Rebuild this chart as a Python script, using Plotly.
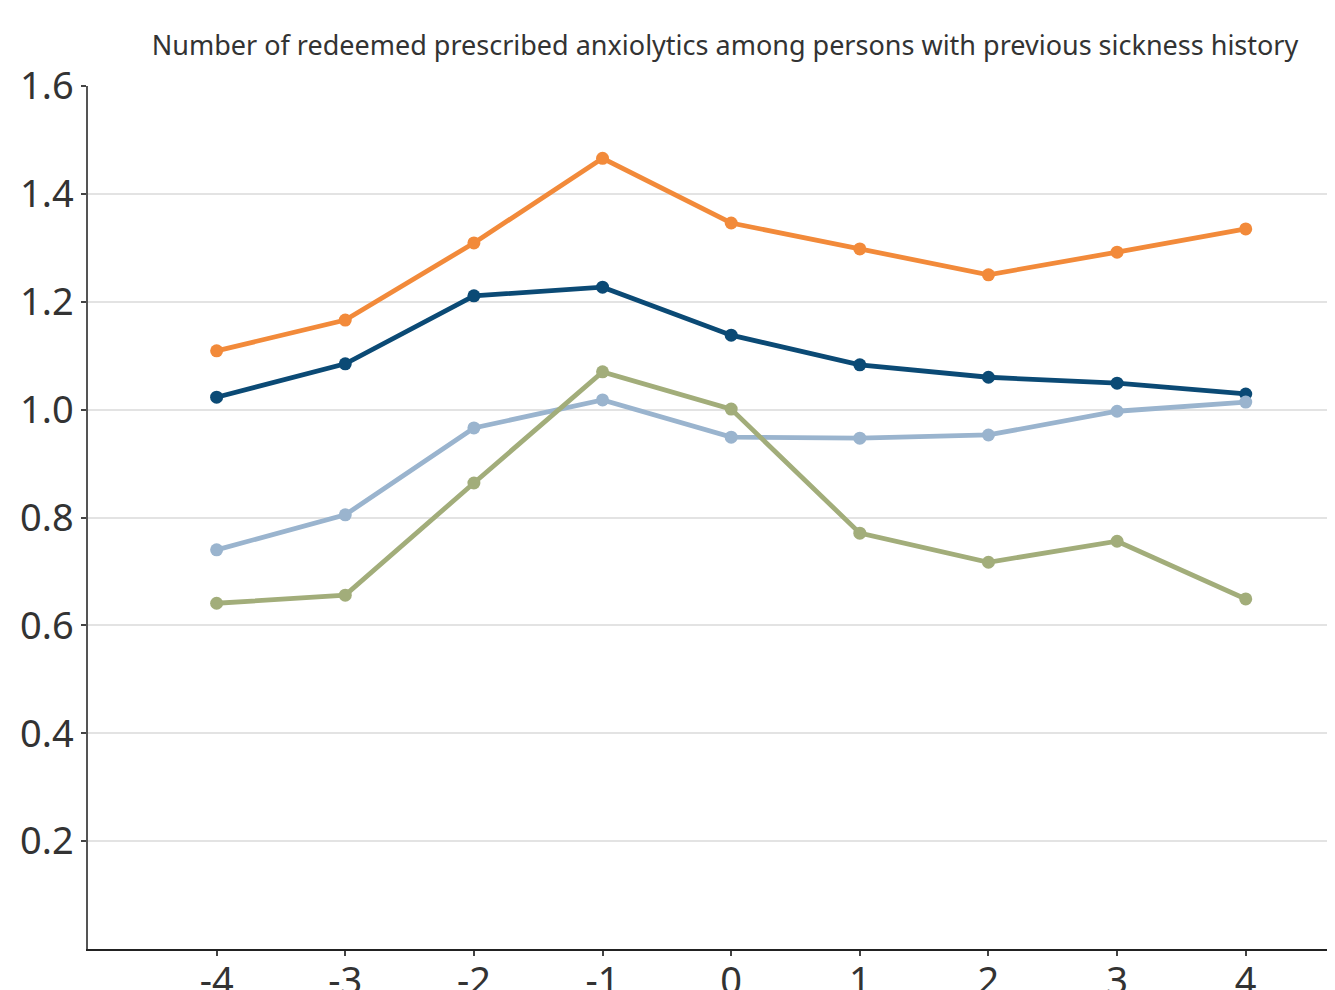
import plotly.graph_objects as go

years = [-4, -3, -2, -1, 0, 1, 2, 3, 4]

orange_vals = [1.109, 1.166, 1.309, 1.466, 1.346, 1.298, 1.250, 1.292, 1.335]
darkblue_vals = [1.023, 1.085, 1.211, 1.227, 1.138, 1.083, 1.060, 1.049, 1.029]
lightblue_vals = [0.740, 0.805, 0.966, 1.018, 0.949, 0.947, 0.953, 0.997, 1.014]
green_vals = [0.641, 0.656, 0.864, 1.070, 1.001, 0.771, 0.717, 0.756, 0.649]

y_ticks = [0.2, 0.4, 0.6, 0.8, 1.0, 1.2, 1.4, 1.6]
y_labels = ["0.2", "0.4", "0.6", "0.8", "1.0", "1.2", "1.4", "1.6"]

series = [
    ("orange", orange_vals, "#F28A3A"),
    ("dark blue", darkblue_vals, "#0B4A75"),
    ("light blue", lightblue_vals, "#9AB4CE"),
    ("green", green_vals, "#A2AD7A"),
]

fig = go.Figure()
for name, vals, col in series:
    fig.add_trace(go.Scatter(x=years, y=vals, mode="lines+markers", name=name,
                             line=dict(color=col, width=4.8),
                             marker=dict(color=col, size=13)))

# the page body adds an 8px margin, so the figure is shrunk by that much
fig.update_layout(
    width=1327, height=982,
    margin=dict(l=80, r=0, t=78, b=41),
    plot_bgcolor="white", paper_bgcolor="white",
    showlegend=False,
    font=dict(family="Noto Sans", color="#333333"),
    title=dict(text="Number of redeemed prescribed anxiolytics among persons with previous sickness history",
               x=717 / 1327, xanchor="center", y=1 - 38 / 982, yanchor="middle",
               font=dict(size=27, color="#333333")),
)
fig.update_xaxes(range=[-5.0, 4.694], tickvals=years, ticktext=[str(v) for v in years],
                 automargin=False, ticklabelstandoff=-8,
                 showgrid=False, zeroline=False, showline=True, linecolor="#222222", linewidth=2,
                 ticks="outside", ticklen=5, tickcolor="#444444", tickwidth=1.5,
                 tickfont=dict(size=38, color="#333333"))
fig.update_yaxes(range=[0, 1.6], tickvals=y_ticks, ticktext=y_labels,
                 automargin=False,
                 showgrid=True, gridcolor="#e3e3e3", gridwidth=2, zeroline=False,
                 showline=True, linecolor="#555555", linewidth=1.5,
                 ticks="outside", ticklen=5, tickcolor="#444444", tickwidth=1.5,
                 tickfont=dict(size=38, color="#333333"))

fig.write_html("out.html")
